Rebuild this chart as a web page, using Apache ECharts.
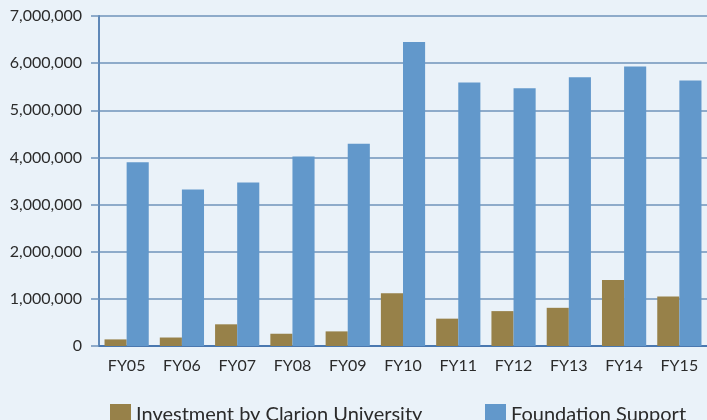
<!DOCTYPE html>
<html>
<head>
<meta charset="utf-8">
<script src="https://cdn.jsdelivr.net/npm/echarts@6/dist/echarts.min.js"></script>
<style>
  html, body { margin: 0; padding: 0; background: #eaf2f9; }
  #chart { width: 707px; height: 420px; }
</style>
</head>
<body>
<div id="chart"></div>
<script>
// fiscal years
var years = ['FY05', 'FY06', 'FY07', 'FY08', 'FY09', 'FY10', 'FY11', 'FY12', 'FY13', 'FY14', 'FY15'];
// values
var clarion = [140000, 180000, 460000, 260000, 310000, 1120000, 580000, 740000, 810000, 1400000, 1050000];
var foundation = [3900000, 3320000, 3470000, 4020000, 4290000, 6450000, 5590000, 5470000, 5700000, 5930000, 5630000];
var yTicks = [0, 1000000, 2000000, 3000000, 4000000, 5000000, 6000000, 7000000];

var seriesNames = ['Investment by Clarion University', 'Foundation Support'];
var fontName = 'Lato';

var chart = echarts.init(document.getElementById('chart'));
var option = {
    backgroundColor: '#eaf2f9',
    animation: false,
    grid: {
        left: 99,
        right: -3,
        top: 16,
        bottom: 74
    },
    legend: [
        {
            data: [seriesNames[0]],
            icon: 'rect',
            left: 105,
            top: 399,
            itemWidth: 21,
            itemHeight: 21,
            itemGap: 10,
            textStyle: { fontSize: 20, color: '#2b2b2b', fontFamily: fontName }
        },
        {
            data: [seriesNames[1]],
            icon: 'rect',
            left: 480,
            top: 399,
            itemWidth: 21,
            itemHeight: 21,
            textStyle: { fontSize: 20, color: '#2b2b2b', fontFamily: fontName }
        }
    ],
    xAxis: {
        type: 'category',
        data: years,
        boundaryGap: true,
        axisLine: { lineStyle: { color: '#4a78b0', width: 2 } },
        axisTick: { length: 6, lineStyle: { color: '#b3bcc6', width: 1.5 } },
        axisLabel: { fontSize: 16, color: '#2b2b2b', fontFamily: fontName, margin: 12 }
    },
    yAxis: {
        type: 'value',
        min: yTicks[0],
        max: yTicks[yTicks.length - 1],
        interval: yTicks[1] - yTicks[0],
        axisLine: { show: true, lineStyle: { color: '#5f88b8', width: 2 } },
        axisTick: { show: true, length: 8, lineStyle: { color: '#6f93ba', width: 1.5 } },
        splitLine: { lineStyle: { color: '#6f93ba', width: 1.5 } },
        axisLabel: {
            fontSize: 16,
            color: '#2b2b2b',
            fontFamily: fontName,
            margin: 17,
            formatter: function (v) { return v.toLocaleString('en-US'); }
        }
    },
    series: [
        {
            name: seriesNames[0],
            type: 'bar',
            data: clarion,
            barGap: '0%',
            barCategoryGap: '20%',
            itemStyle: { color: '#978149' }
        },
        {
            name: seriesNames[1],
            type: 'bar',
            data: foundation,
            itemStyle: { color: '#6298cb' }
        }
    ]
};
chart.setOption(option);
</script>
</body>
</html>
